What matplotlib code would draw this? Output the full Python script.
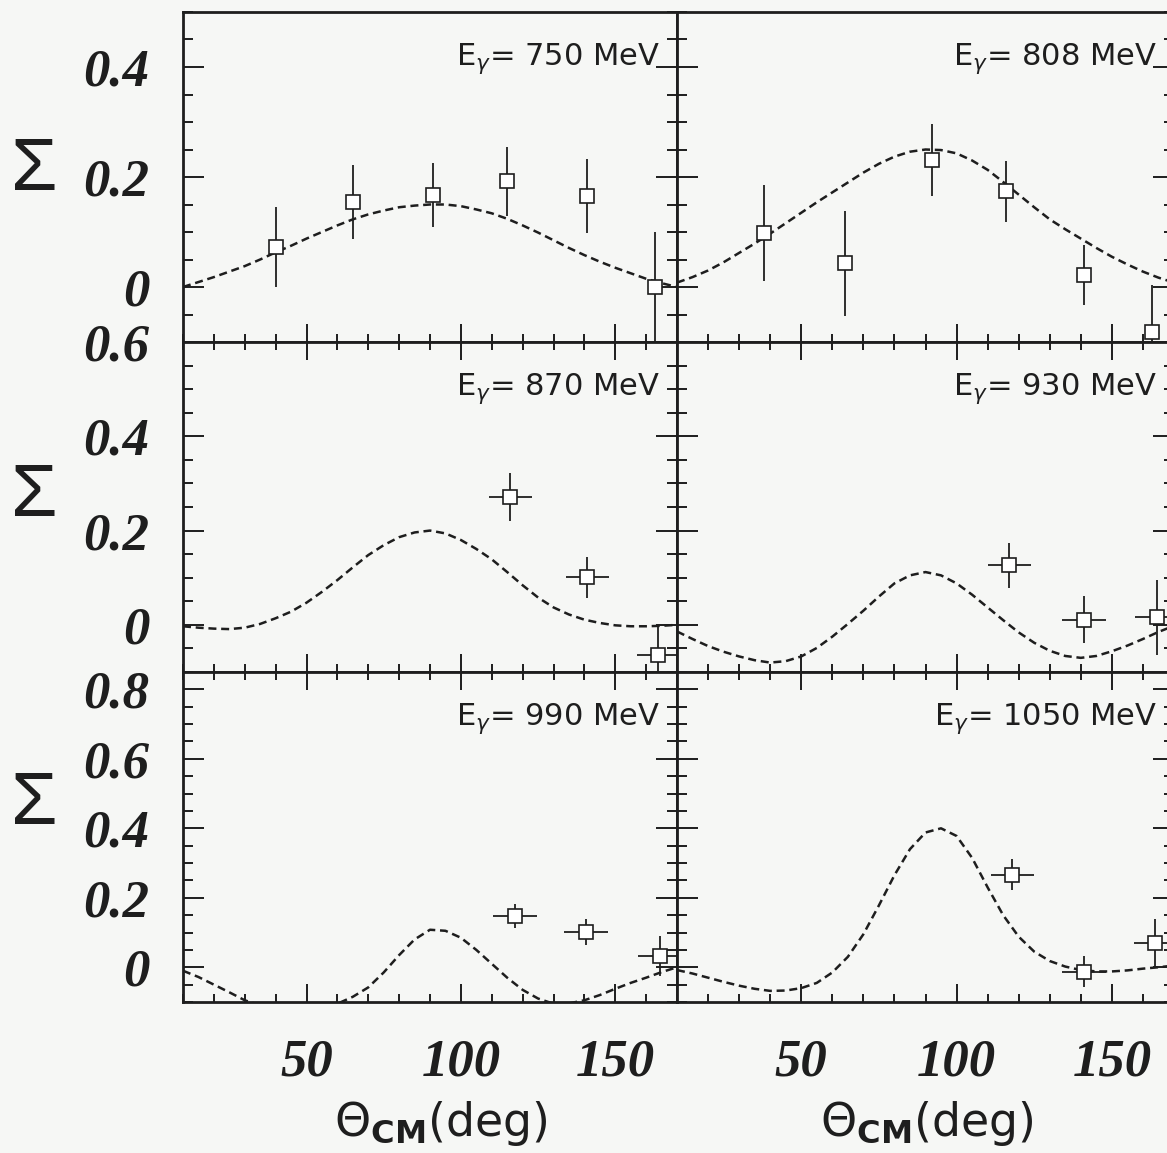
import matplotlib.pyplot as plt
from matplotlib.ticker import MultipleLocator, FixedLocator, FuncFormatter, NullFormatter

plt.rcParams['mathtext.fontset'] = 'dejavusans'

# beam energies (MeV), panel order: left-right, top-bottom
energies = [750, 808, 870, 930, 990, 1050]

# measured points: angle (deg), Sigma, error on Sigma
th_750 = [40, 65, 91, 115, 141, 163]
s_750 = [0.073, 0.155, 0.168, 0.192, 0.166, 0.0]
e_750 = [0.073, 0.067, 0.058, 0.063, 0.067, 0.10]

th_808 = [38, 64, 92, 116, 141, 163]
s_808 = [0.098, 0.043, 0.231, 0.174, 0.022, -0.082]
e_808 = [0.087, 0.096, 0.066, 0.055, 0.055, 0.086]

th_870 = [116, 141, 164]
s_870 = [0.272, 0.101, -0.064]
e_870 = [0.051, 0.043, 0.06]

th_930 = [117, 141, 164.5]
s_930 = [0.126, 0.011, 0.016]
e_930 = [0.048, 0.05, 0.08]

th_990 = [117.5, 140.5, 164.5]
s_990 = [0.147, 0.102, 0.033]
e_990 = [0.034, 0.038, 0.058]

th_1050 = [118, 141, 164]
s_1050 = [0.267, -0.013, 0.07]
e_1050 = [0.045, 0.045, 0.07]

th_err = [7, 7, 7]   # angular bin half width, lower rows

# model curves (dashed), read every 5 deg
c_th = [10, 15, 20, 25, 30, 35, 40, 45, 50, 55, 60, 65, 70, 75, 80, 85, 90,
        95, 100, 105, 110, 115, 120, 125, 130, 135, 140, 145, 150, 155, 160, 165, 170]
c_750 = [0.0, 0.009, 0.018, 0.028, 0.038, 0.05, 0.063, 0.075, 0.088, 0.1, 0.112,
         0.123, 0.132, 0.139, 0.145, 0.148, 0.150, 0.150, 0.147, 0.141, 0.134,
         0.124, 0.112, 0.099, 0.085, 0.071, 0.058, 0.046, 0.035, 0.025, 0.015,
         0.007, 0.0]
c_808 = [0.008, 0.018, 0.03, 0.045, 0.062, 0.079, 0.097, 0.116, 0.135, 0.154,
         0.172, 0.19, 0.208, 0.224, 0.237, 0.246, 0.250, 0.249, 0.243, 0.23,
         0.213, 0.191, 0.168, 0.145, 0.123, 0.105, 0.088, 0.071, 0.055, 0.041,
         0.028, 0.017, 0.008]
c_870 = [-0.003, -0.006, -0.008, -0.009, -0.006, 0.002, 0.014, 0.028, 0.047, 0.07,
         0.095, 0.122, 0.148, 0.169, 0.186, 0.196, 0.200, 0.194, 0.180, 0.161,
         0.139, 0.112, 0.084, 0.058, 0.037, 0.022, 0.011, 0.004, -0.001, -0.003,
         -0.003, -0.002, 0.0]
c_930 = [-0.014, -0.03, -0.045, -0.057, -0.067, -0.075, -0.08, -0.077, -0.067,
         -0.049, -0.025, 0.002, 0.03, 0.06, 0.088, 0.105, 0.112, 0.105, 0.088,
         0.064, 0.037, 0.01, -0.016, -0.038, -0.055, -0.066, -0.07, -0.066,
         -0.056, -0.044, -0.03, -0.015, -0.002]
c_990 = [-0.01, -0.028, -0.05, -0.072, -0.095, -0.11, -0.12, -0.125, -0.125,
         -0.118, -0.105, -0.085, -0.058, -0.015, 0.035, 0.08, 0.108, 0.105,
         0.085, 0.05, 0.01, -0.03, -0.065, -0.09, -0.105, -0.104, -0.095, -0.08,
         -0.062, -0.045, -0.03, -0.014, 0.0]
c_1050 = [-0.008, -0.018, -0.03, -0.042, -0.053, -0.062, -0.068, -0.067, -0.06,
          -0.045, -0.015, 0.03, 0.095, 0.178, 0.265, 0.34, 0.388, 0.40, 0.378,
          0.315, 0.23, 0.15, 0.088, 0.045, 0.018, 0.002, -0.008, -0.012, -0.012,
          -0.009, -0.004, 0.0, 0.005]

points = [(th_750, s_750, e_750), (th_808, s_808, e_808),
          (th_870, s_870, e_870), (th_930, s_930, e_930),
          (th_990, s_990, e_990), (th_1050, s_1050, e_1050)]
curves = [c_750, c_808, c_870, c_930, c_990, c_1050]

row_ylim = [(-0.1, 0.5), (-0.1, 0.6), (-0.1, 0.85)]
row_major = [[0, 0.2, 0.4], [0, 0.2, 0.4, 0.6], [0, 0.2, 0.4, 0.6, 0.8]]

ink = '#1e1e1e'
bg = '#f6f7f5'
tickfont = dict(family='Liberation Serif', weight='bold', style='italic', size=38)

fig = plt.figure(figsize=(11.67, 11.53), dpi=100, facecolor=bg)

W, H = 1167.0, 1153.0
col_x = [183, 677]
col_w = [494, 497]
row_top = [12, 342, 672]
row_h = 330


def fmt(v, pos):
    return '0' if abs(v) < 1e-9 else '%.1f' % v


for i in range(6):
    r, c = divmod(i, 2)
    ax = fig.add_axes([col_x[c] / W, 1 - (row_top[r] + row_h) / H,
                       col_w[c] / W, row_h / H])
    ax.set_facecolor(bg)
    ax.set_xlim(10, 170)
    ax.set_ylim(*row_ylim[r])

    ax.plot(c_th, curves[i], color=ink, lw=1.8, ls=(0, (3.2, 1.9)), zorder=2,
            solid_joinstyle='round', dash_joinstyle='round')

    th, s, e = points[i]
    xe = None if r == 0 else th_err
    ax.errorbar(th, s, yerr=e, xerr=xe, fmt='s', ms=10.5, mfc='white', mec=ink,
                mew=1.2, ecolor=ink, elinewidth=1.3, capsize=0, zorder=3)

    ax.text(0.966, 0.84, r'E$_\gamma$= %d MeV' % energies[i], transform=ax.transAxes,
            ha='right', va='baseline', fontsize=22, color=ink, family='DejaVu Sans')

    ax.xaxis.set_major_locator(FixedLocator([50, 100, 150]))
    ax.xaxis.set_minor_locator(MultipleLocator(10))
    ax.yaxis.set_major_locator(FixedLocator(row_major[r]))
    ax.yaxis.set_minor_locator(MultipleLocator(0.05))

    for sp in ax.spines.values():
        sp.set_linewidth(2.0)
        sp.set_color(ink)

    ax.tick_params(axis='both', which='both', direction='in', color=ink,
                   top=(r != 0), bottom=True, left=True, right=True)
    ax.tick_params(axis='x', which='major', length=13, width=1.4, pad=26)
    ax.tick_params(axis='x', which='minor', length=6, width=1.4)
    ax.tick_params(axis='y', which='major', length=15, width=1.4, pad=24)
    ax.tick_params(axis='y', which='minor', length=7, width=1.4)

    if r == 2:
        ax.set_xticklabels(['50', '100', '150'], fontdict=tickfont, color=ink)
    else:
        ax.xaxis.set_major_formatter(NullFormatter())
    if c == 0:
        ax.yaxis.set_major_formatter(FuncFormatter(fmt))
        plt.setp(ax.get_yticklabels(), family='Liberation Serif', weight='bold',
                 style='italic', size=38, color=ink)
    else:
        ax.yaxis.set_major_formatter(NullFormatter())

# Sigma labels
for yc in [171, 497, 805]:
    fig.text(34 / W, 1 - yc / H, 'Σ', ha='center', va='center',
             fontsize=54, color=ink, family='Liberation Sans')

# x axis titles
for xc in [441, 927]:
    fig.text(xc / W, 1 - 1123 / H, r'$\Theta_{\mathbf{CM}}$(deg)', ha='center',
             va='center', fontsize=33, color=ink, family='DejaVu Sans')

fig.savefig('out.png', dpi=100, facecolor=bg)
